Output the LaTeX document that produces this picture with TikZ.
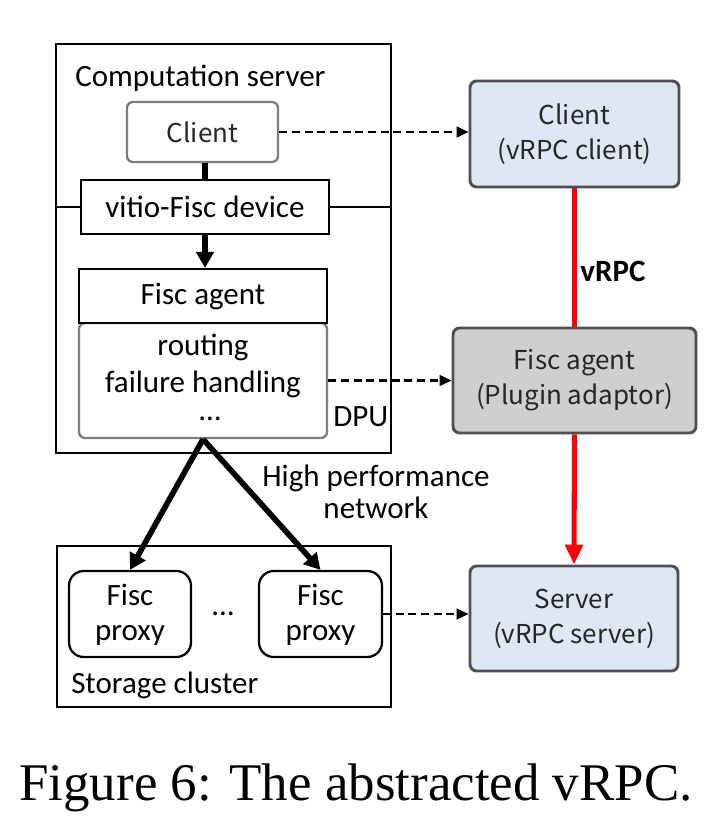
\documentclass[tikz,border=0pt]{standalone}
\usepackage{fontspec}
\usetikzlibrary{arrows.meta}
\newfontfamily\calfont{Carlito}
\newfontfamily\yhfont{Noto Sans CJK SC}
\newfontfamily\capfont{Liberation Serif}
\definecolor{paleblue}{HTML}{DEE8F4}
\definecolor{palegray}{HTML}{D0CECE}
\definecolor{rborder}{HTML}{505050}
\definecolor{lborder}{HTML}{7F7F7F}
\begin{document}
\begin{tikzpicture}[x=0.75pt,y=-0.75pt,
  cal/.style={font=\calfont\fontsize{23.25}{27}\selectfont},
  yh/.style={font=\yhfont\fontsize{19.5}{26.25}\selectfont, text=black!85},
  blkbox/.style={draw=black, line width=1.7pt, inner sep=0pt},
  lgbox/.style={draw=lborder, line width=1.8pt, rounded corners=4.5pt, inner sep=0pt},
  rbox/.style={draw=rborder, line width=2.2pt, rounded corners=5pt, inner sep=0pt, yh, align=center},
  proxybox/.style={draw=black, line width=1.7pt, rounded corners=11pt, inner sep=0pt, cal, align=center},
  thickarrow/.style={line width=4.2pt, -{Triangle[length=12pt,width=13pt]}},
  dasharrow/.style={line width=1.8pt, dash pattern=on 6pt off 3.5pt, -{Triangle[length=9pt,width=8pt]}},
  redarrow/.style={draw=red, line width=3.8pt},
  dotsnode/.style={cal, anchor=base, inner sep=0pt, text height=3pt, text depth=0pt},
]
\useasboundingbox (0,0) rectangle (721,829);

% computation server
\node[blkbox, minimum width=335*0.75pt, minimum height=409*0.75pt] (cs) at (223.5,248.5) {};
\node[cal, anchor=base west, inner sep=0pt] (cst) at (75,86) {Computation server};
\node[lgbox, yh, minimum width=151*0.75pt, minimum height=60*0.75pt] (cl) at (202.5,132) {Client};
\node[blkbox, cal, minimum width=248*0.75pt, minimum height=54*0.75pt] (vit) at (205,207) {vitio-Fisc device};
\node[lgbox, minimum width=248*0.75pt, minimum height=115*0.75pt] (rt) at (203,380.5) {};
\node[blkbox, cal, fill=white, minimum width=248*0.75pt, minimum height=54*0.75pt] (ag) at (203,296) {Fisc agent};
\node[cal, anchor=base, inner sep=0pt] (rt1) at (203,355) {routing};
\node[cal, anchor=base, inner sep=0pt] (rt2) at (203,392) {failure handling};
\node[dotsnode] (rt3) at (210,420) {\ldots};
\node[cal, anchor=base west, inner sep=0pt] (dpu) at (333,426) {DPU};

\draw[line width=4.2pt] (cl.south -| vit.north) -- (vit.north);
\draw[thickarrow] (vit.south) -- (vit.south |- ag.north);
\draw[line width=1.7pt] (vit.west) -- (vit.west -| cs.west);
\draw[line width=1.7pt] (vit.east) -- (vit.east -| cs.east);

% storage cluster
\node[blkbox, minimum width=334*0.75pt, minimum height=161*0.75pt] (st) at (224,626.5) {};
\node[cal, anchor=base west, inner sep=0pt] (stl) at (71,693) {Storage cluster};
\node[proxybox, minimum width=122*0.75pt, minimum height=86*0.75pt] (p1) at (130,614) {};
\node[proxybox, minimum width=123*0.75pt, minimum height=86*0.75pt] (p2) at (320.5,614) {};
\node[cal, anchor=base, inner sep=0pt] (p1a) at (130,605) {Fisc};
\node[cal, anchor=base, inner sep=0pt] (p1b) at (130,640) {proxy};
\node[cal, anchor=base, inner sep=0pt] (p2a) at (320.5,605) {Fisc};
\node[cal, anchor=base, inner sep=0pt] (p2b) at (320.5,640) {proxy};
\node[dotsnode] (pd) at (223,615) {\ldots};

\draw[thickarrow] (rt.south) -- (p1.north);
\draw[thickarrow] (rt.south) -- (p2.north);
\node[cal, anchor=base, inner sep=0pt] (net1) at (376,486) {High performance};
\node[cal, anchor=base, inner sep=0pt] (net2) at (376,518) {network};

% right column
\node[rbox, fill=paleblue, minimum width=209*0.75pt, minimum height=106*0.75pt] (rc) at (574.5,134) {Client\\(vRPC client)};
\node[rbox, fill=palegray, minimum width=243*0.75pt, minimum height=105*0.75pt] (ga) at (574.5,380.5) {Fisc agent\\(Plugin adaptor)};
\node[rbox, fill=paleblue, minimum width=208*0.75pt, minimum height=105*0.75pt] (sv) at (574,618.5) {Server\\(vRPC server)};

\draw[redarrow] (rc.south) -- (ga.north);
\draw[redarrow, -{Triangle[length=15pt,width=13pt]}] (ga.south) -- (sv.north);
\node[font=\calfont\bfseries\fontsize{23.25}{27}\selectfont, inner sep=0pt] (vrpc) at (613,271) {vRPC};

\draw[dasharrow] (cl.east) -- (cl.east -| rc.west);
\draw[dasharrow] (rt.east) -- (rt.east -| ga.west);
\draw[dasharrow] (p2.east) -- (p2.east -| sv.west);

% caption
\node[font=\capfont\fontsize{39.7}{45}\selectfont, anchor=base, inner sep=0pt] (cap) at (356,800) {Figure 6: The abstracted vRPC.};
\end{tikzpicture}
\end{document}
